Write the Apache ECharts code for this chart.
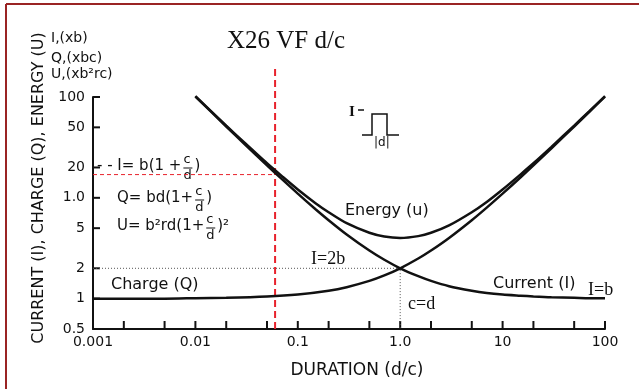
<!DOCTYPE html>
<html lang="en">
<head>
    <meta charset="UTF-8">
    <title>X26 VF d/c</title>
    <style>
        html, body { margin: 0; padding: 0; background: #fff; }
        #main { width: 639px; height: 389px; }
    </style>
</head>
<body>
    <div id="main"></div>
<script src="https://cdn.jsdelivr.net/npm/echarts@6/dist/echarts.min.js"></script>
<script>
    // values
    var xTickVals = [0.001, 0.002, 0.005, 0.01, 0.02, 0.05, 0.1, 0.2, 0.5, 1, 2, 5, 10, 20, 50, 100];
    var xTickLabels = ['0.001', '0.01', '0.1', '1.0', '10', '100'];
    var yTickVals = [0.5, 1, 2, 5, 10, 20, 50, 100];
    var yTickLabels = ['0.5', '1', '2', '5', '1.0', '20', '50', '100'];

    var durIU = [0.01, 0.02, 0.03, 0.05, 0.07, 0.1, 0.15, 0.2, 0.3, 0.5, 0.7, 1, 1.5, 2, 3, 5, 7, 10, 15, 20, 30, 50, 70, 100];
    var energy = [102, 52, 35.4, 22, 16.4, 12.1, 8.8, 7.2, 5.6, 4.5, 4.13, 4, 4.17, 4.5, 5.33, 7.2, 9.1, 12.1, 17.1, 22, 32, 52, 72, 102];
    var current = [101, 51, 34.3, 21, 15.3, 11, 7.67, 6, 4.33, 3, 2.43, 2, 1.67, 1.5, 1.33, 1.2, 1.14, 1.1, 1.07, 1.05, 1.03, 1.02, 1.01, 1.01];

    var durQ = [0.001, 0.002, 0.005, 0.01, 0.02, 0.05, 0.1, 0.2, 0.3, 0.5, 0.7, 1, 1.5, 2, 3, 5, 7, 10, 15, 20, 30, 50, 70, 100];
    var charge = [1, 1, 1, 1.01, 1.02, 1.05, 1.1, 1.2, 1.3, 1.5, 1.7, 2, 2.5, 3, 4, 6, 8, 11, 16, 21, 31, 51, 71, 101];

    // reference lines
    var redX = 0.06, redTop = 200, redY = 17;

    function pairs(xs, ys) {
        return xs.map(function (x, i) { return [x, ys[i]]; });
    }

    var ink = '#111';
    var sans = 'DejaVu Sans';
    var serif = 'Liberation Serif';

    var measure = document.createElement('canvas').getContext('2d');
    function textWidth(s, font) {
        measure.font = font;
        return measure.measureText(s).width;
    }

    function curve(name, data) {
        return {
            name: name,
            type: 'line',
            data: data,
            smooth: 0.25,
            symbol: 'none',
            clip: false,
            lineStyle: { color: ink, width: 2.5 },
            z: 3
        };
    }

    function refLine(data, color, width, dash) {
        return {
            type: 'line',
            data: data,
            symbol: 'none',
            clip: false,
            silent: true,
            lineStyle: { color: color, width: width, type: dash },
            z: 2
        };
    }

    // fraction c/d drawn as stacked text
    function eq(x, y, before, after) {
        var f = '15px ' + sans;
        var fs = '13px ' + sans;
        var els = [
            { type: 'text', left: x, top: y - 9, style: { text: before, font: f, fill: ink } }
        ];
        var fx = x + textWidth(before, f) + 2;
        els.push({ type: 'text', left: fx, top: y - 15, style: { text: 'c', font: fs, fill: ink } });
        els.push({ type: 'line', shape: { x1: fx, y1: y, x2: fx + 9, y2: y }, style: { stroke: ink, lineWidth: 1 } });
        els.push({ type: 'text', left: fx, top: y + 1, style: { text: 'd', font: fs, fill: ink } });
        els.push({ type: 'text', left: fx + 11, top: y - 9, style: { text: after, font: f, fill: ink } });
        return els;
    }

    var mChart = echarts.init(document.getElementById('main'));

    var graphics = [
        // frame
        { type: 'line', shape: { x1: 6, y1: 4, x2: 639, y2: 4 }, style: { stroke: '#9a2424', lineWidth: 2 } },
        { type: 'line', shape: { x1: 6, y1: 4, x2: 6, y2: 389 }, style: { stroke: '#9a2424', lineWidth: 2 } },
        // y axis title
        {
            type: 'text', x: 39, y: 188, rotation: Math.PI / 2,
            style: { text: 'CURRENT (I), CHARGE (Q), ENERGY (U)', font: '16px ' + sans, fill: ink, align: 'center', verticalAlign: 'middle' }
        },
        { type: 'text', left: 51, top: 31, style: { text: 'I,(xb)', font: '14px ' + sans, fill: ink } },
        { type: 'text', left: 51, top: 51, style: { text: 'Q,(xbc)', font: '14px ' + sans, fill: ink } },
        { type: 'text', left: 51, top: 67, style: { text: 'U,(xb²rc)', font: '14px ' + sans, fill: ink } },
        // curve labels
        { type: 'text', left: 345, top: 203, style: { text: 'Energy (u)', font: '16px ' + sans, fill: ink } },
        { type: 'text', left: 493, top: 276, style: { text: 'Current (I)', font: '16px ' + sans, fill: ink } },
        { type: 'text', left: 111, top: 277, style: { text: 'Charge (Q)', font: '16px ' + sans, fill: ink } },
        { type: 'text', left: 311, top: 250, style: { text: 'I=2b', font: '18px ' + serif, fill: ink } },
        { type: 'text', left: 408, top: 295, style: { text: 'c=d', font: '18px ' + serif, fill: ink } },
        { type: 'text', left: 588, top: 281, style: { text: 'I=b', font: '18px ' + serif, fill: ink } },
        // pulse icon
        { type: 'text', left: 349, top: 105, style: { text: 'I', font: 'bold 15px ' + serif, fill: ink } },
        { type: 'line', shape: { x1: 358, y1: 110, x2: 364, y2: 110 }, style: { stroke: ink, lineWidth: 1.5 } },
        {
            type: 'polyline',
            shape: { points: [[362, 135], [372, 135], [372, 114], [387, 114], [387, 135], [399, 135]] },
            style: { stroke: ink, lineWidth: 1.5, fill: null }
        },
        { type: 'text', left: 374, top: 137, style: { text: '|d|', font: '12px ' + sans, fill: ink } }
    ];
    graphics = graphics
        .concat(eq(97, 168, '- - I= b(1 +', ')'))
        .concat(eq(117, 200, 'Q= bd(1+', ')'))
        .concat(eq(117, 228, 'U= b²rd(1+', ')²'));

    var option = {
        animation: false,
        title: {
            text: 'X26 VF d/c',
            left: 222,
            top: 24,
            textStyle: { fontFamily: serif, fontSize: 25, fontWeight: 'normal', color: ink }
        },
        grid: { left: 93, right: 34, top: 97, bottom: 60 },
        xAxis: {
            type: 'log',
            min: 0.001,
            max: 100,
            name: 'DURATION (d/c)',
            nameLocation: 'middle',
            nameGap: 33,
            nameTextStyle: { fontFamily: sans, fontSize: 17, color: ink, padding: [0, 0, 0, 16] },
            axisLine: { lineStyle: { color: ink, width: 2 } },
            axisTick: { show: false },
            splitLine: { show: false },
            minorTick: { show: false },
            axisLabel: {
                fontFamily: sans, fontSize: 14, color: ink, margin: 6,
                formatter: function (v) {
                    return xTickLabels[Math.round(Math.log10(v)) + 3];
                }
            }
        },
        yAxis: {
            type: 'log',
            min: 0.5,
            max: 100,
            axisLine: { show: true, lineStyle: { color: ink, width: 2 } },
            axisTick: { show: false },
            splitLine: { show: false },
            axisLabel: { show: false }
        },
        series: [
            curve('Energy', pairs(durIU, energy)),
            curve('Current', pairs(durIU, current)),
            curve('Charge', pairs(durQ, charge)),
            refLine([[redX, 0.5], [redX, redTop]], '#e8222c', 2, [7, 4]),
            refLine([[0.001, redY], [redX, redY]], '#e8222c', 1, [4, 3]),
            refLine([[0.001, 2], [1, 2], [1, 0.5]], '#555', 1, [1, 2]),
            {
                // x ticks
                type: 'custom',
                clip: false,
                silent: true,
                data: xTickVals.map(function (v) { return [v, 0.5]; }),
                renderItem: function (params, api) {
                    var p = api.coord([api.value(0), api.value(1)]);
                    return {
                        type: 'line',
                        shape: { x1: p[0], y1: p[1], x2: p[0], y2: p[1] - 8 },
                        style: { stroke: ink, lineWidth: 2 }
                    };
                }
            },
            {
                // y ticks and labels
                type: 'custom',
                clip: false,
                silent: true,
                data: yTickVals.map(function (v, i) { return [0.001, v, i]; }),
                renderItem: function (params, api) {
                    var p = api.coord([api.value(0), api.value(1)]);
                    return {
                        type: 'group',
                        children: [
                            {
                                type: 'line',
                                shape: { x1: p[0], y1: p[1], x2: p[0] + 7, y2: p[1] },
                                style: { stroke: ink, lineWidth: 2 }
                            },
                            {
                                type: 'text',
                                x: p[0] - 8,
                                y: p[1],
                                style: {
                                    text: yTickLabels[api.value(2)],
                                    font: '14px ' + sans,
                                    fill: ink,
                                    align: 'right',
                                    verticalAlign: 'middle'
                                }
                            }
                        ]
                    };
                }
            }
        ],
        graphic: graphics
    };

    mChart.setOption(option);
    window.onresize = mChart.resize;
</script>
</body>
</html>
